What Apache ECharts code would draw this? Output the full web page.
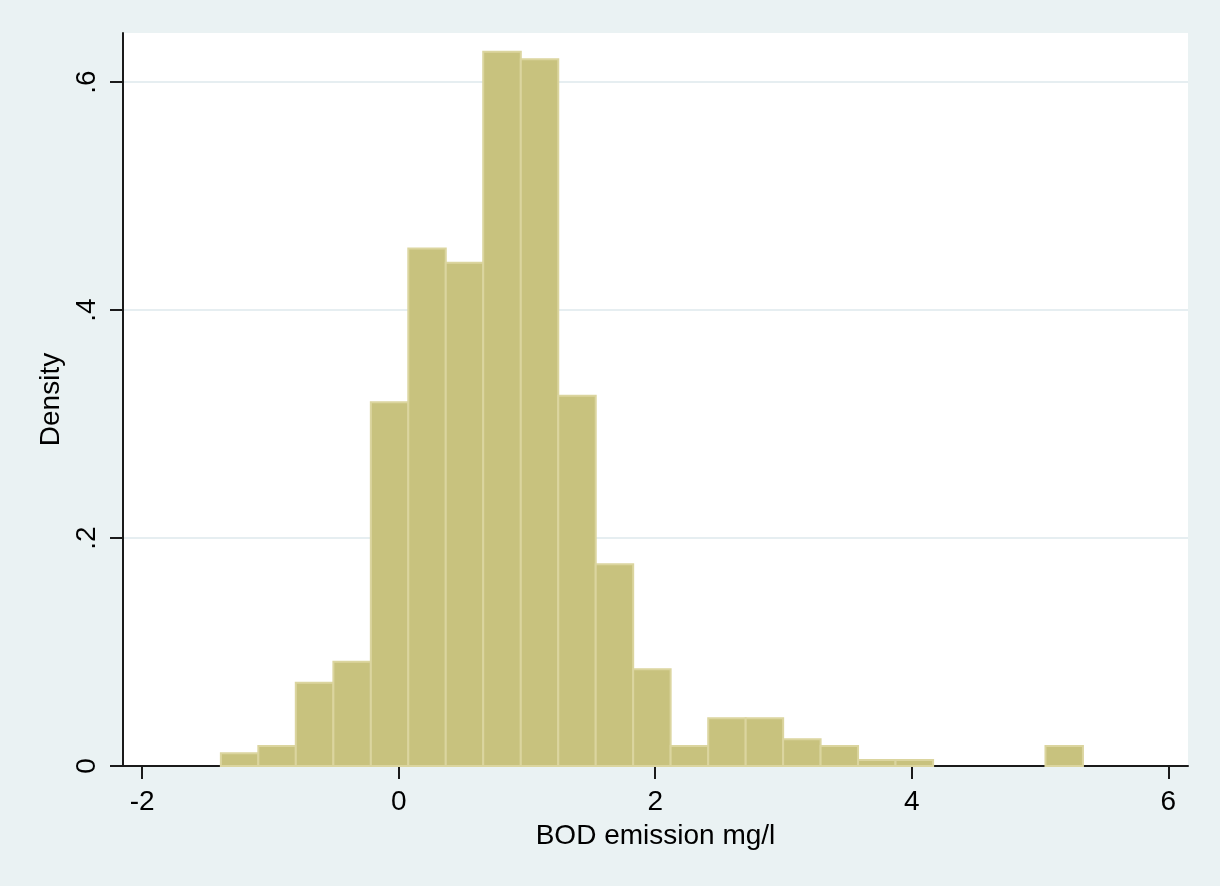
<!DOCTYPE html>
<html>
<head>
<meta charset="utf-8">
<title>BOD emission histogram</title>
<script src="https://cdn.jsdelivr.net/npm/echarts@6/dist/echarts.min.js"></script>
<style>
    html, body { margin: 0; padding: 0; background: #eaf2f3; }
    #chart { width: 1220px; height: 886px; }
</style>
</head>
<body>
<div id="chart"></div>
<script>
// bin edges (mg/l), 23 bins
var binEdges = [-1.386, -1.094, -0.802, -0.509, -0.217, 0.075, 0.367, 0.659, 0.952, 1.244,
    1.536, 1.828, 2.120, 2.413, 2.705, 2.997, 3.289, 3.581, 3.873, 4.166, 4.458, 4.750, 5.042, 5.334];
// density of each bin
var density = [0.0111, 0.0175, 0.073, 0.0915, 0.319, 0.454, 0.4415, 0.6266, 0.620, 0.3248,
    0.177, 0.0848, 0.0175, 0.0418, 0.0418, 0.0234, 0.0175, 0.0053, 0.0053, 0, 0, 0, 0.0175];
var xTicks = [-2, 0, 2, 4, 6];
var yTicks = [0, 0.2, 0.4, 0.6];
var xTitle = 'BOD emission mg/l';
var yTitle = 'Density';

var bars = [];
for (var i = 0; i < density.length; i++) {
    bars.push([binEdges[i], binEdges[i + 1], density[i]]);
}

var fontFamily = '"Liberation Sans", Arial, Helvetica, sans-serif';
var axisColor = '#1a1a1a';
var chart = echarts.init(document.getElementById('chart'));
chart.setOption({
    backgroundColor: '#eaf2f3',
    animation: false,
    grid: {
        left: 123, right: 32, top: 33, bottom: 120,
        show: true, backgroundColor: '#ffffff', borderWidth: 0
    },
    xAxis: {
        type: 'value',
        min: -2.149,
        max: 6.153,
        name: xTitle,
        nameLocation: 'middle',
        nameGap: 56,
        nameTextStyle: { color: '#000', fontSize: 28, fontFamily: fontFamily },
        axisLine: { show: true, onZero: false, lineStyle: { color: axisColor, width: 2 } },
        axisTick: { show: true, length: 13, customValues: xTicks, lineStyle: { color: axisColor, width: 2 } },
        axisLabel: {
            customValues: xTicks, margin: 22, color: '#000', fontSize: 28, fontFamily: fontFamily
        },
        splitLine: { show: false }
    },
    yAxis: {
        type: 'value',
        min: 0,
        max: 0.643,
        interval: 0.2,
        name: yTitle,
        nameLocation: 'middle',
        nameGap: 52,
        nameTextStyle: { color: '#000', fontSize: 28, fontFamily: fontFamily },
        axisLine: { show: true, onZero: false, lineStyle: { color: axisColor, width: 2 } },
        axisTick: { show: true, length: 13, customValues: yTicks, lineStyle: { color: axisColor, width: 2 } },
        axisLabel: {
            customValues: yTicks, rotate: 90, margin: 22, color: '#000', fontSize: 28, fontFamily: fontFamily,
            formatter: function (v) {
                return v === 0 ? '0' : String(+v.toFixed(1)).replace(/^0/, '');
            }
        },
        splitLine: { show: true, lineStyle: { color: '#e6eef1', width: 2 } }
    },
    series: [{
        type: 'custom',
        data: bars,
        encode: { x: [0, 1], y: 2 },
        renderItem: function (params, api) {
            if (!(api.value(2) > 0)) {
                return null;
            }
            var p0 = api.coord([api.value(0), api.value(2)]);
            var p1 = api.coord([api.value(1), 0]);
            return {
                type: 'rect',
                shape: { x: p0[0], y: p0[1], width: p1[0] - p0[0], height: p1[1] - p0[1] },
                style: { fill: '#c8c27e', stroke: '#dbd59f', lineWidth: 2 }
            };
        }
    }]
});
</script>
</body>
</html>
